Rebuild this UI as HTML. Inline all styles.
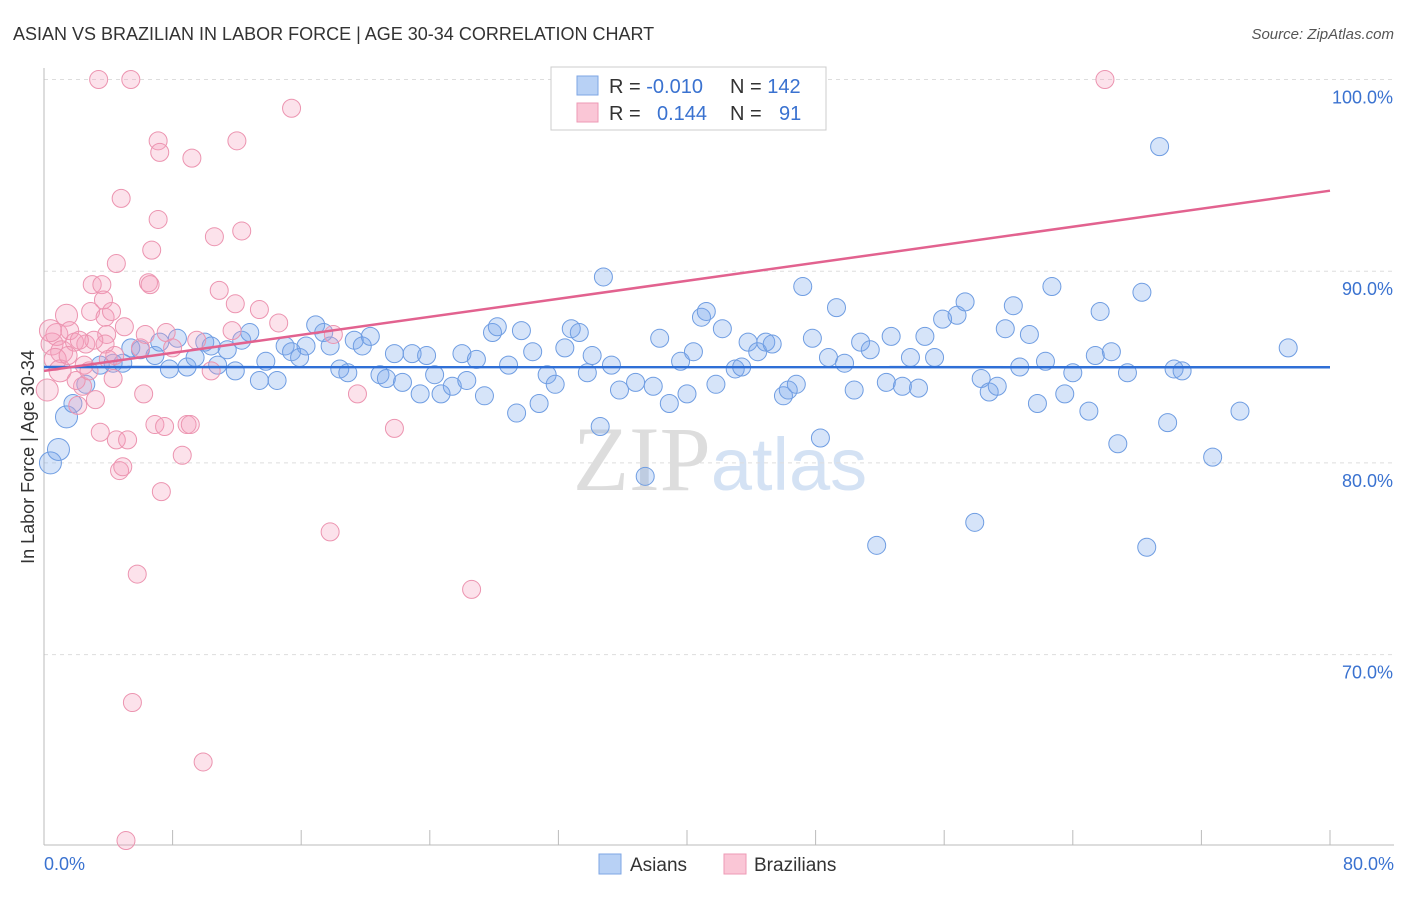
<!DOCTYPE html>
<html><head><meta charset="utf-8"><style>
body{margin:0;background:#fff;font-family:"Liberation Sans",sans-serif}
</style></head><body>
<svg id="chart" width="1406" height="892" xmlns="http://www.w3.org/2000/svg" font-family="Liberation Sans, sans-serif">
<text x="13" y="40" font-size="18" fill="#333">ASIAN VS BRAZILIAN IN LABOR FORCE | AGE 30-34 CORRELATION CHART</text>
<text x="1394" y="39" font-size="15" fill="#555" text-anchor="end" font-style="italic">Source: ZipAtlas.com</text>
<text x="720" y="490" font-size="92" fill="#ddd" text-anchor="middle" font-family="Liberation Serif, serif">ZIP<tspan fill="#d4e2f4" font-family="Liberation Sans, sans-serif" font-size="74">atlas</tspan></text>
<g id="grid"></g>
<g id="axes"></g>
<g id="points"></g>
<g id="trends"></g>
<text transform="translate(34,457) rotate(-90)" font-size="18" fill="#333" text-anchor="middle">In Labor Force | Age 30-34</text>
<g>
<rect x="551" y="67" width="275" height="63" fill="#fff" stroke="#ccc"/>
<rect x="577" y="76" width="21" height="19" fill="#b8d1f5" stroke="#7ea6e4"/>
<rect x="577" y="103" width="21" height="19" fill="#fac6d6" stroke="#ee9ab5"/>
<text x="609" y="93" font-size="20" fill="#333">R = <tspan fill="#3a72d0">-0.010</tspan></text>
<text x="730" y="93" font-size="20" fill="#333">N = <tspan fill="#3a72d0">142</tspan></text>
<text x="609" y="120" font-size="20" fill="#333">R = <tspan fill="#3a72d0" x="657">0.144</tspan></text>
<text x="730" y="120" font-size="20" fill="#333">N = <tspan fill="#3a72d0" x="779">91</tspan></text>
</g>
<g>
<rect x="599" y="854" width="22" height="20" fill="#b8d1f5" stroke="#7ea6e4"/>
<text x="630" y="871" font-size="19" fill="#333">Asians</text>
<rect x="724" y="854" width="22" height="20" fill="#fac6d6" stroke="#ee9ab5"/>
<text x="754" y="871" font-size="19" fill="#333">Brazilians</text>
</g>
</svg>
<script>
const xTicks=[0,8,16,24,32,40,48,56,64,72,80];
const yTicks=[70,80,90,100];
const yTickLabels=["70.0%","80.0%","90.0%","100.0%"];
const xEndLabels=["0.0%","80.0%"];
const asiansX=[0.4,0.9,1.4,1.8,2.6,3.5,4.3,4.9,5.4,6.0,6.9,7.2,7.8,8.3,8.9,9.4,10.0,10.4,10.8,11.4,11.9,12.3,12.8,13.4,13.8,14.5,15.0,15.4,15.9,16.3,16.9,17.4,17.8,18.4,18.9,19.3,19.8,20.3,20.9,21.3,21.8,22.3,22.9,23.4,23.8,24.3,24.7,25.4,26.0,26.3,26.9,27.4,27.9,28.2,28.9,29.4,29.7,30.4,30.8,31.3,31.8,32.4,32.8,33.3,33.8,34.1,34.6,34.8,35.3,35.8,36.8,37.4,37.9,38.3,38.9,39.6,40.0,40.4,40.9,41.2,41.8,42.2,43.0,43.4,43.8,44.4,44.9,45.3,46.0,46.3,46.8,47.2,47.8,48.3,48.8,49.3,49.8,50.4,50.8,51.4,51.8,52.4,52.7,53.4,53.9,54.4,54.8,55.4,55.9,56.8,57.3,57.9,58.3,58.8,59.3,59.8,60.3,60.7,61.3,61.8,62.3,62.7,63.5,64.0,65.0,65.4,65.7,66.4,66.8,67.4,68.3,68.6,69.4,69.9,70.3,70.8,72.7,74.4,77.4];
const asiansY=[80.0,80.7,82.4,83.1,84.1,85.1,85.2,85.2,86.0,85.9,85.6,86.3,84.9,86.5,85.0,85.5,86.3,86.1,85.1,85.9,84.8,86.4,86.8,84.3,85.3,84.3,86.1,85.8,85.5,86.1,87.2,86.8,86.1,84.9,84.7,86.4,86.1,86.6,84.6,84.4,85.7,84.2,85.7,83.6,85.6,84.6,83.6,84.0,85.7,84.3,85.4,83.5,86.8,87.1,85.1,82.6,86.9,85.8,83.1,84.6,84.1,86.0,87.0,86.8,84.7,85.6,81.9,89.7,85.1,83.8,84.2,79.3,84.0,86.5,83.1,85.3,83.6,85.8,87.6,87.9,84.1,87.0,84.9,85.0,86.3,85.8,86.3,86.2,83.5,83.8,84.1,89.2,86.5,81.3,85.5,88.1,85.2,83.8,86.3,85.9,75.7,84.2,86.6,84.0,85.5,83.9,86.6,85.5,87.5,87.7,88.4,76.9,84.4,83.7,84.0,87.0,88.2,85.0,86.7,83.1,85.3,89.2,83.6,84.7,82.7,85.6,87.9,85.8,81.0,84.7,88.9,75.6,96.5,82.1,84.9,84.8,80.3,82.7,86.0];
const brazX=[0.2,0.5,0.8,1.1,1.4,1.6,1.9,2.1,2.4,2.6,2.9,3.0,3.2,3.4,3.5,3.6,3.8,3.9,4.2,4.3,4.5,4.5,4.7,4.8,4.9,5.0,5.2,5.4,5.5,5.8,6.0,6.2,6.3,6.5,6.6,6.7,6.9,7.1,7.1,7.2,7.3,7.5,7.6,8.0,8.6,8.9,9.1,9.2,9.5,9.9,10.4,10.6,10.9,11.7,11.9,12.0,12.3,13.4,14.6,15.4,17.8,18.0,19.5,21.8,26.6,5.1,66.0,0.7,1.0,1.5,2.0,2.5,2.8,3.8,4.0,4.4,3.1,2.2,0.4,3.7];
const brazY=[83.8,86.2,86.7,85.8,87.7,86.9,86.3,83.0,84.0,86.2,87.9,89.3,83.3,100.0,81.6,89.3,87.6,86.7,87.9,84.4,81.2,90.4,79.6,93.8,79.8,87.1,81.2,100.0,67.5,74.2,86.0,83.6,86.7,89.4,89.3,91.1,82.0,92.7,96.8,96.2,78.5,81.9,86.8,86.0,80.4,82.0,82.0,95.9,86.4,64.4,84.8,91.8,89.0,86.9,88.3,96.8,92.1,88.0,87.3,98.5,76.4,86.7,83.6,81.8,73.4,60.3,100.0,85.4,84.8,85.6,84.3,85.1,84.8,86.2,85.4,85.6,86.4,86.4,86.9,88.5];
const asiansTrend=[85.0,84.99];
const brazTrend=[84.8,94.2];
const NS="http://www.w3.org/2000/svg";
const X0=44,X1=1330,YTOP=79.5,PXPER=19.17;
const sx=v=>X0+(v-0)/80*(X1-X0);
const sy=v=>YTOP+(100-v)*PXPER;
function mk(tag,attrs,parent){const e=document.createElementNS(NS,tag);for(const k in attrs)e.setAttribute(k,attrs[k]);parent.appendChild(e);return e;}
const grid=document.getElementById('grid'),axes=document.getElementById('axes'),pts=document.getElementById('points'),tr=document.getElementById('trends');
yTicks.forEach((t,i)=>{
 const l=mk('line',{x1:X0,x2:1394,y1:sy(t),y2:sy(t),stroke:'#ddd','stroke-dasharray':'4,4'},grid);
 
 
 const tx=mk('text',{x:1393,y:sy(t)+24,'font-size':18,fill:'#3a72d0','text-anchor':'end'},axes);
 tx.textContent=yTickLabels[i];
 
 
});
const ax=mk('line',{x1:X0,x2:X0,y1:68,y2:845,stroke:'#bbb'},axes);


const bx=mk('line',{x1:X0,x2:1394,y1:845,y2:845,stroke:'#bbb'},axes);


xTicks.forEach(t=>{
 const l=mk('line',{x1:sx(t),x2:sx(t),y1:830,y2:845,stroke:'#bbb'},axes);
 
 
});
[[0,'start',44],[80,'end',1394]].forEach((d,i)=>{
 const tx=mk('text',{x:d[2],y:870,'font-size':18,fill:'#3a72d0','text-anchor':d[1]},axes);
 tx.textContent=xEndLabels[i];
 
 
});
function draw(X,Y,fill,stroke,name){
 X.forEach((x,i)=>{
  const r=(x<1.5)?11:9;
  const c=mk('circle',{cx:sx(x),cy:sy(Y[i]),r:r,fill:fill,stroke:stroke,'stroke-width':1},pts);
  
  
 });
}
draw(asiansX,asiansY,'rgba(120,165,235,0.3)','#6f9de2','asian-point');
draw(brazX,brazY,'rgba(245,160,190,0.3)','#ec94b0','brazilian-point');
const l1=mk('line',{x1:sx(0),x2:sx(80),y1:sy(asiansTrend[0]),y2:sy(asiansTrend[1]),stroke:'#2f6fd6','stroke-width':2.5},tr);


const l2=mk('line',{x1:sx(0),x2:sx(80),y1:sy(brazTrend[0]),y2:sy(brazTrend[1]),stroke:'#e2628f','stroke-width':2.5},tr);


</script>
</body></html>
